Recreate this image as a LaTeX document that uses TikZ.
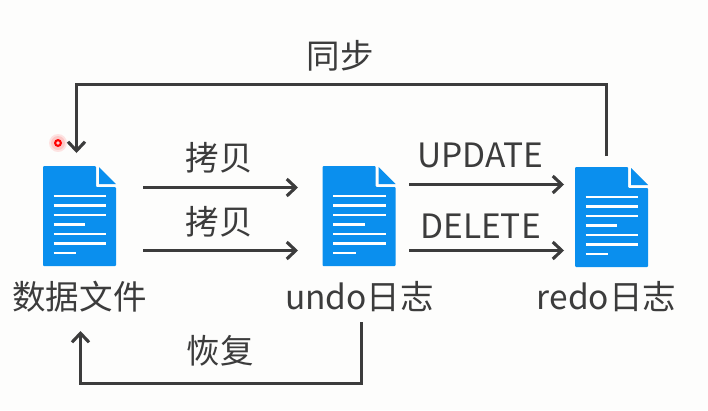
\documentclass[tikz,border=0pt]{standalone}
\usepackage{fontspec}
\setmainfont{Noto Sans CJK SC}
\usetikzlibrary{arrows.meta}
\definecolor{ink}{HTML}{3C3C3C}
\definecolor{docblue}{HTML}{0A8FEE}
\definecolor{bgc}{HTML}{FDFDFC}
\tikzset{
  x=1pt,y=-1pt,
  conn/.style={draw=ink,line width=3.1pt,-{Straight Barb[length=9pt,width=17pt,line width=3.1pt]}},
  lab/.style={text=ink,font=\fontsize{33.5}{38}\selectfont,inner sep=0pt,anchor=center},
  docbox/.style={minimum width=73pt,minimum height=100pt,inner sep=0pt,draw=none},
}
\newcommand{\docicon}[3]{% name, cx, cy
  \node[docbox] (#1) at (#2,#3) {};
  \begin{scope}[shift={(#2-36.5,#3-50)}]
    \fill[docblue,rounded corners=1pt] (0,0) -- (53,0) -- (53,21) -- (73,21) -- (73,100) -- (0,100) -- cycle;
    \fill[docblue] (56,1) -- (73,18) -- (56,18) -- cycle;
    \foreach \yy/\xe in {30/63,39.5/63,49/63,58.5/42,68/63,77.5/63,87/33}
      \draw[white,line width=2.6pt] (10.5,\yy) -- (\xe,\yy);
  \end{scope}
}
\begin{document}
\begin{tikzpicture}
\useasboundingbox (0,0) rectangle (708,410);
\fill[bgc] (0,0) rectangle (708,410);
% documents
\docicon{d1}{79.5}{216}
\docicon{d2}{359}{216}
\docicon{d3}{611.5}{217}
% laser pointer
\fill[red,opacity=.10] (58,143) circle (9);
\fill[red,opacity=.12] (58,143) circle (7);
\fill[red] (58,143) circle (4);
\fill[white!80!red] (58,143) circle (1.8);
% free ends
\coordinate (a1s) at (143,187.5); \coordinate (a1e) at (298,187.5);
\coordinate (a2s) at (143,250.5); \coordinate (a2e) at (298,250.5);
\coordinate (b1s) at (409,184.5); \coordinate (b1e) at (564,184.5);
\coordinate (b2s) at (409,250.5); \coordinate (b2e) at (564,250.5);
\coordinate (ts) at (606.5,156); \coordinate (tc) at (606.5,84.5);
\coordinate (tl) at (76.5,84.5); \coordinate (te) at (76.5,153);
\coordinate (us) at (361.5,322); \coordinate (uc) at (361.5,383.5);
\coordinate (ul) at (80.5,383.5); \coordinate (ue) at (80.5,331);
% connectors
\draw[conn] (a1s) -- (a1e);
\draw[conn] (a2s) -- (a2e);
\draw[conn] (b1s) -- (b1e);
\draw[conn] (b2s) -- (b2e);
\draw[conn] (ts) -- (tc) -- (tl) -- (te);
\draw[conn] (us) -- (uc) -- (ul) -- (ue);
% labels
\node[lab] (lsync) at (340,56) {同步};
\node[lab] (lc1) at (219,158) {拷贝};
\node[lab] (lc2) at (219,222) {拷贝};
\node[lab] (lup) at (480.5,155) {UPDATE};
\node[lab] (ldel) at (480.5,226) {DELETE};
\node[lab] (lf1) at (79.5,297) {数据文件};
\node[lab] (lf2) at (359.5,297) {undo日志};
\node[lab] (lf3) at (606.5,297) {redo日志};
\node[lab] (lrec) at (220,351) {恢复};
\end{tikzpicture}
\end{document}
